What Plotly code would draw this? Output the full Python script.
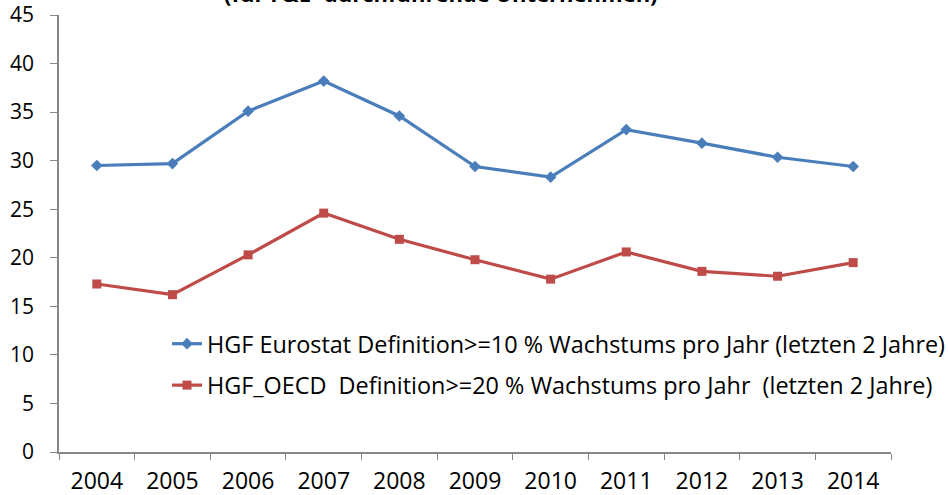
import plotly.graph_objects as go

years = ["2004", "2005", "2006", "2007", "2008", "2009", "2010", "2011", "2012", "2013", "2014"]
eurostat = [29.5, 29.7, 35.1, 38.2, 34.6, 29.4, 28.3, 33.2, 31.8, 30.35, 29.4]
oecd = [17.3, 16.2, 20.3, 24.6, 21.9, 19.8, 17.8, 20.6, 18.6, 18.1, 19.5]
name_eurostat = "HGF Eurostat Definition>=10 % Wachstums pro Jahr (letzten 2 Jahre)"
name_oecd = "HGF_OECD  Definition>=20 % Wachstums pro Jahr  (letzten 2 Jahre)"
title_text = "(für F&E- durchführende Unternehmen)"

FONT = "Open Sans"
fig = go.Figure()
fig.add_trace(go.Scatter(x=years, y=eurostat, name=name_eurostat, mode="lines+markers",
                         legendgroup="a",
                         line=dict(color="#4A7EBB", width=3.2),
                         marker=dict(symbol="diamond", size=9, color="#4A7EBB")))
fig.add_trace(go.Scatter(x=years, y=oecd, name=name_oecd, mode="lines+markers",
                         legendgroup="b",
                         line=dict(color="#BE4B48", width=3.2),
                         marker=dict(symbol="square", size=9, color="#BE4B48")))

fig.add_annotation(text="<b>" + title_text + "</b>", xref="paper", yref="paper",
                   x=(441 - 59) / 832, y=1, xanchor="center", yanchor="bottom",
                   yshift=5, showarrow=False, font=dict(family=FONT, size=22, color="black"))

fig.update_layout(
    width=948, height=495,
    margin=dict(l=59, r=57, t=15, b=43, autoexpand=False),
    paper_bgcolor="white", plot_bgcolor="white",
    font=dict(family=FONT, size=18, color="black"),
    showlegend=True,
    legend=dict(x=(167 - 59) / 832, y=(452 - 322) / 437, xanchor="left", yanchor="top",
                bgcolor="rgba(0,0,0,0)", font=dict(family=FONT, size=23.4, color="black"),
                itemwidth=30, traceorder="grouped", tracegroupgap=8),
)
fig.update_xaxes(type="category", range=[-0.5, 10.5], showline=True, linecolor="#868686", linewidth=1.5,
                 ticks="outside", tickson="boundaries", ticklen=6, tickcolor="#868686",
                 showgrid=False, zeroline=False, automargin=False, ticklabelstandoff=8,
                 tickfont=dict(family=FONT, size=23))
fig.update_yaxes(range=[0, 45], dtick=5, showline=True, linecolor="#868686", linewidth=1.5,
                 ticks="outside", ticklen=7, tickcolor="#868686",
                 showgrid=False, zeroline=False, automargin=False, ticklabelstandoff=12,
                 tickfont=dict(family=FONT, size=21))

fig.write_html("out.html", config={"displayModeBar": False},
               post_script="document.body.style.margin='0';")
